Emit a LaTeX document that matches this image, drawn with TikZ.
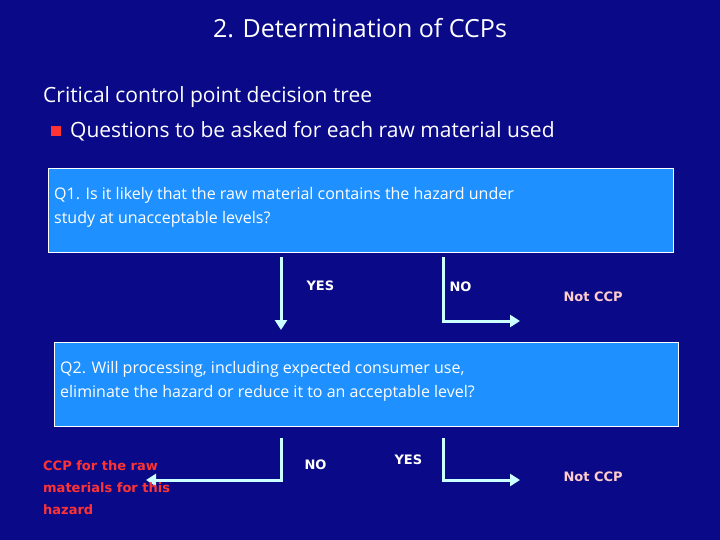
\documentclass[tikz,border=0pt]{standalone}
\usepackage{fontspec}
\setmainfont{Open Sans}
\newfontfamily\vb{DejaVu Sans}
\usetikzlibrary{arrows.meta}
\definecolor{bg}{HTML}{0A0A88}
\definecolor{boxc}{HTML}{1E90FF}
\definecolor{arr}{HTML}{CCFFFF}
\definecolor{pinkc}{HTML}{FFCCCC}
\definecolor{redc}{HTML}{FF3333}
\tikzset{
  qbox/.style={draw=white,line width=0.8pt,fill=boxc},
  conn/.style={arr,line width=3pt,-{Triangle[length=10pt,width=12pt]}},
  lbl/.style={font=\vb\bfseries\fontsize{13}{15}\selectfont,text=white,anchor=west},
  ncp/.style={font=\vb\bfseries\fontsize{13}{15}\selectfont,text=pinkc,anchor=west},
  qtext/.style={font=\fontsize{16}{24}\selectfont,text=white,anchor=north west,align=left,inner sep=0pt}
}
\begin{document}
\begin{tikzpicture}[x=1pt,y=-1pt]
\fill[bg] (0,0) rectangle (720,540);
\useasboundingbox (0,0) rectangle (720,540);
\node[font=\fontsize{25}{30}\selectfont,text=white] (title) at (360,28) {2. Determination of CCPs};
\node[font=\fontsize{21}{26}\selectfont,text=white,anchor=west,inner sep=0pt] (sub) at (43,97) {Critical control point decision tree};
\fill[redc] (51,126) rectangle (61,136);
\node[font=\fontsize{21}{26}\selectfont,text=white,anchor=west,inner sep=0pt] (q) at (70,131) {Questions to be asked for each raw material used};
\node[qbox,minimum width=625pt,minimum height=84pt,anchor=north west] (b1) at (48,168) {};
\node[qtext] (t1) at (54,187) {Q1. Is it likely that the raw material contains the hazard under\\study at unacceptable levels?};
\node[qbox,minimum width=624pt,minimum height=84pt,anchor=north west] (b2) at (54,342) {};
\node[qtext] (t2) at (60,361) {Q2. Will processing, including expected consumer use,\\eliminate the hazard or reduce it to an acceptable level?};
\coordinate (a1) at (281,257);
\coordinate (a1e) at (281,330);
\draw[conn] (a1) -- (a1e);
\coordinate (n1) at (443,257);
\coordinate (n1e) at (520,321);
\draw[conn] (n1) |- (n1e);
\coordinate (n2) at (281,438);
\coordinate (n2e) at (146,480);
\draw[conn] (n2) |- (n2e);
\coordinate (y2) at (443,438);
\coordinate (y2e) at (520,480);
\draw[conn] (y2) |- (y2e);
\node[lbl] (yes1) at (303,286) {YES};
\node[lbl] (no1) at (446,287) {NO};
\node[ncp] (nc1) at (560,297) {Not CCP};
\node[lbl] (no2) at (301,465) {NO};
\node[lbl] (yes2) at (391,460) {YES};
\node[ncp] (nc2) at (560,477) {Not CCP};
\node[font=\vb\bfseries\fontsize{13}{22}\selectfont,text=redc,anchor=north west,align=left,inner sep=0pt] (ccp) at (43,460) {CCP for the raw\\materials for this\\hazard};
\end{tikzpicture}
\end{document}
